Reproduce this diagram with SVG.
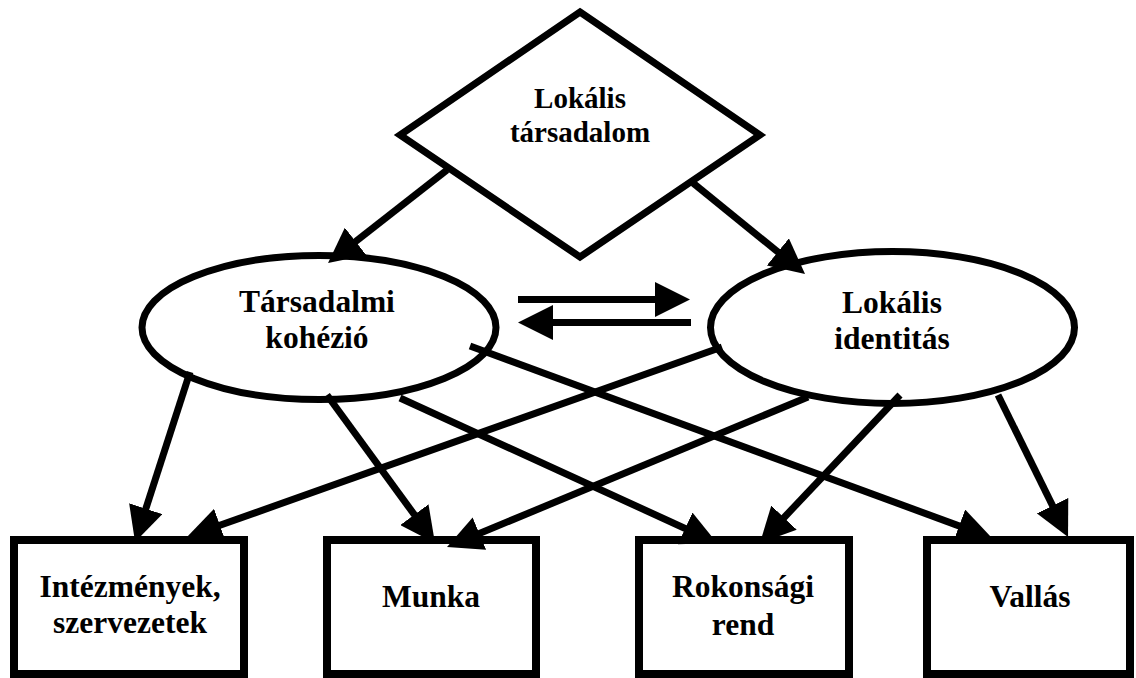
<svg xmlns="http://www.w3.org/2000/svg" width="1136" height="678" viewBox="0 0 1136 678">
<style>
.shape{fill:#fff;stroke:#000;stroke-width:7}
.box{fill:#fff;stroke:#000;stroke-width:8}
.lbl{font-family:"Liberation Serif","Times New Roman",serif;font-weight:bold;font-size:31.5px;text-anchor:middle;fill:#000}
.dl{font-size:29px}
.conn line{stroke:#000;stroke-width:7;marker-end:url(#ah)}
</style>
<defs>
<marker id="ah" markerUnits="userSpaceOnUse" markerWidth="35" markerHeight="35" viewBox="0 0 35 35" refX="15" refY="17.5" orient="auto">
<path d="M0,0 L35,17.5 L0,35 z" fill="#000"/>
</marker>
</defs>
<rect width="1136" height="678" fill="#fff"/>
<g id="lokalis-tarsadalom">
<polygon class="shape" points="580,12 760,135 580,257 400,135"/>
<text class="lbl dl" x="580" y="108">Lokális</text>
<text class="lbl dl" x="580" y="142">társadalom</text>
</g>
<g id="tarsadalmi-kohezio">
<ellipse class="shape" cx="319" cy="327.5" rx="177" ry="72"/>
<text class="lbl" x="317" y="312">Társadalmi</text>
<text class="lbl" x="317" y="348">kohézió</text>
</g>
<g id="lokalis-identitas">
<ellipse class="shape" cx="892.5" cy="327.5" rx="182" ry="76"/>
<text class="lbl" x="892" y="313">Lokális</text>
<text class="lbl" x="892" y="349">identitás</text>
</g>
<g id="intezmenyek">
<rect class="box" x="14" y="540" width="230" height="134"/>
<text class="lbl" x="130" y="597">Intézmények,</text>
<text class="lbl" x="130" y="633">szervezetek</text>
</g>
<g id="munka">
<rect class="box" x="327" y="540" width="209" height="134"/>
<text class="lbl" x="431" y="607">Munka</text>
</g>
<g id="rokonsagi-rend">
<rect class="box" x="639" y="540" width="210" height="134"/>
<text class="lbl" x="743" y="597">Rokonsági</text>
<text class="lbl" x="743" y="635">rend</text>
</g>
<g id="vallas">
<rect class="box" x="927" y="540" width="203" height="134"/>
<text class="lbl" x="1030" y="607">Vallás</text>
</g>
<g id="connectors" class="conn">
<line x1="447" y1="170" x2="343.8" y2="250.7"/>
<line x1="693" y1="183" x2="789.5" y2="261.4"/>
<line x1="518" y1="299.5" x2="670" y2="299.5"/>
<line x1="691" y1="322.5" x2="538" y2="322.5"/>
<line x1="190" y1="372" x2="141.2" y2="523"/>
<line x1="327" y1="395" x2="423.2" y2="526.8"/>
<line x1="400" y1="398" x2="698.8" y2="534.7"/>
<line x1="470" y1="346" x2="973.2" y2="531.1"/>
<line x1="722" y1="347" x2="205.8" y2="530.3"/>
<line x1="808" y1="397" x2="465.5" y2="539.3"/>
<line x1="900" y1="395" x2="773.7" y2="528.5"/>
<line x1="998" y1="395" x2="1059.2" y2="519.1"/>
</g>
</svg>
